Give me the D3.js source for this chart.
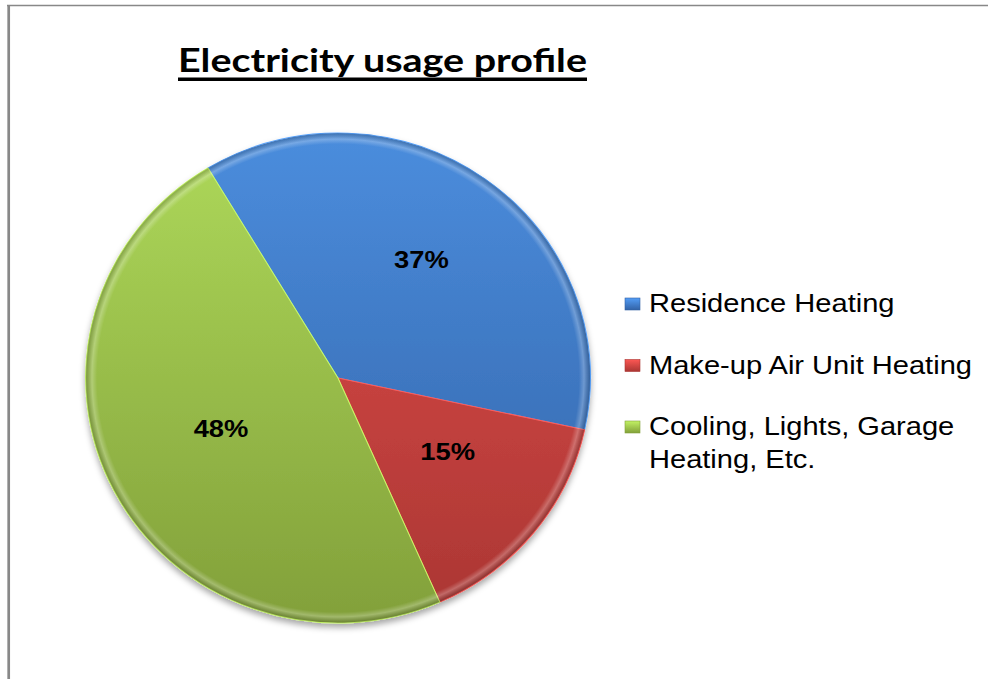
<!DOCTYPE html>
<html>
<head>
<meta charset="utf-8">
<script src="https://cdn.jsdelivr.net/npm/d3@7"></script>
<style>
  html, body { margin: 0; padding: 0; background: #fff; }
  svg { display: block; }
</style>
</head>
<body>
<div id="chart"></div>
<script>
// chart data
const title = 'Electricity usage profile';
const categories = ['Residence Heating', 'Make-up Air Unit Heating', 'Cooling, Lights, Garage Heating, Etc.'];
const legendLines = [['Residence Heating'], ['Make-up Air Unit Heating'], ['Cooling, Lights, Garage', 'Heating, Etc.']];
const values = [37, 15, 48];
const colorsTop = ['#4b8ddd', '#e24e4b', '#aed95a'];
const colorsBottom = ['#3262a6', '#aa3633', '#82a03a'];

const width = 988, height = 679;
const cx = 338, cy = 378;
const r = 245;
const stretchX = 1.03;     // pie is slightly wider than tall
const textStretch = 1.14;  // text in the picture is horizontally stretched

const svg = d3.select('#chart').append('svg')
  .attr('width', width)
  .attr('height', height);

const defs = svg.append('defs');

// vertical shading per slice colour
categories.forEach((c, i) => {
  const g = defs.append('linearGradient')
    .attr('id', 'grad' + i)
    .attr('gradientUnits', 'userSpaceOnUse')
    .attr('x1', 0).attr('y1', -r)
    .attr('x2', 0).attr('y2', r);
  g.append('stop').attr('offset', '0%').attr('stop-color', colorsTop[i]);
  g.append('stop').attr('offset', '100%').attr('stop-color', colorsBottom[i]);
});

// rim bevel
const rim = defs.append('radialGradient')
  .attr('id', 'rim')
  .attr('gradientUnits', 'userSpaceOnUse')
  .attr('cx', 0).attr('cy', 0).attr('r', r);
rim.append('stop').attr('offset', '0.955').attr('stop-color', '#fff').attr('stop-opacity', 0);
rim.append('stop').attr('offset', '0.975').attr('stop-color', '#fff').attr('stop-opacity', 0.25);
rim.append('stop').attr('offset', '1').attr('stop-color', '#000').attr('stop-opacity', 0.2);

const shadow = defs.append('filter')
  .attr('id', 'shadow')
  .attr('x', '-10%').attr('y', '-10%')
  .attr('width', '120%').attr('height', '125%');
shadow.append('feDropShadow')
  .attr('dx', 0).attr('dy', 4)
  .attr('stdDeviation', 3)
  .attr('flood-color', '#000')
  .attr('flood-opacity', 0.35);

// frame lines
svg.append('line')
  .attr('x1', 7).attr('x2', width)
  .attr('y1', 5.5).attr('y2', 5.5)
  .attr('stroke', '#888').attr('stroke-width', 1.5);
svg.append('line')
  .attr('x1', 8.7).attr('x2', 8.7)
  .attr('y1', 5).attr('y2', height)
  .attr('stroke', '#888').attr('stroke-width', 2.7);

// title
const titleText = svg.append('text')
  .attr('x', 178)
  .attr('y', 72)
  .attr('font-family', 'Lato, "Open Sans", sans-serif')
  .attr('font-weight', 'bold')
  .attr('font-size', 33)
  .attr('textLength', 409)
  .attr('lengthAdjust', 'spacingAndGlyphs')
  .attr('fill', '#000')
  .text(title);

const tb = titleText.node().getBBox();
svg.append('rect')
  .attr('x', tb.x)
  .attr('y', 77.5)
  .attr('width', tb.width)
  .attr('height', 3.5)
  .attr('fill', '#000');

// pie
const pie = d3.pie().sort(null).startAngle(-31 * Math.PI / 180).endAngle((360 - 31) * Math.PI / 180);
const arcs = pie(values);
const arc = d3.arc().innerRadius(0).outerRadius(r);

const pieG = svg.append('g')
  .attr('transform', `translate(${cx},${cy}) scale(${stretchX},1)`);

const body = pieG.append('g').attr('filter', 'url(#shadow)');

body.selectAll('path.slice')
  .data(arcs)
  .enter()
  .append('path')
  .attr('class', 'slice')
  .attr('d', arc)
  .attr('fill', (d, i) => `url(#grad${i})`)
  .attr('stroke', (d, i) => d3.color(colorsTop[i]).brighter(0.4))
  .attr('stroke-width', 1)
  .attr('stroke-linejoin', 'round');

pieG.selectAll('path.rim')
  .data(arcs)
  .enter()
  .append('path')
  .attr('class', 'rim')
  .attr('d', arc)
  .attr('fill', 'url(#rim)');

// data labels
const labelArc = d3.arc().innerRadius(0).outerRadius(r * 1.08);
svg.append('g')
  .selectAll('text')
  .data(arcs)
  .enter()
  .append('text')
  .attr('transform', d => {
    const [x, y] = labelArc.centroid(d);
    return `translate(${cx + 4 + x * stretchX},${cy + y - 2}) scale(${textStretch},1)`;
  })
  .attr('text-anchor', 'middle')
  .attr('font-family', '"Liberation Sans", Arial, sans-serif')
  .attr('font-weight', 'bold')
  .attr('font-size', 24)
  .attr('fill', '#000')
  .text(d => d.data + '%');

// legend
const legendY = d3.scalePoint().domain(categories).range([312, 435]);

const legend = svg.append('g')
  .selectAll('g')
  .data(categories)
  .enter()
  .append('g')
  .attr('transform', d => `translate(625,${legendY(d)})`);

categories.forEach((c, i) => {
  const g = defs.append('linearGradient')
    .attr('id', 'key' + i)
    .attr('x1', 0).attr('y1', 0).attr('x2', 0).attr('y2', 1);
  g.append('stop').attr('offset', '0%').attr('stop-color', d3.color(colorsTop[i]).brighter(0.3));
  g.append('stop').attr('offset', '100%').attr('stop-color', colorsBottom[i]);
});

legend.append('rect')
  .attr('x', 0).attr('y', -14)
  .attr('width', 15).attr('height', 12)
  .attr('fill', (d, i) => `url(#key${i})`)
  .attr('stroke', (d, i) => colorsBottom[i])
  .attr('stroke-width', 0.6);

legend.append('text')
  .attr('transform', `translate(24,0) scale(${textStretch},1)`)
  .attr('font-family', '"Liberation Sans", Arial, sans-serif')
  .attr('font-size', 25.5)
  .attr('fill', '#000')
  .selectAll('tspan')
  .data((d, i) => legendLines[i])
  .enter()
  .append('tspan')
  .attr('x', 0)
  .attr('dy', (d, j) => j === 0 ? 0 : 33)
  .text(d => d);
</script>
</body>
</html>
